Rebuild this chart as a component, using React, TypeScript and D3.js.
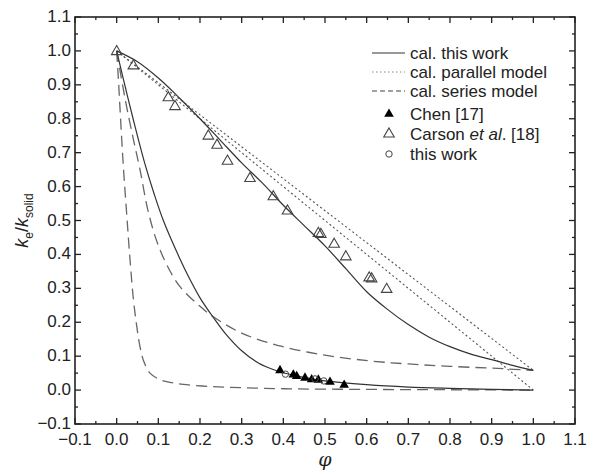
import React from "react";
import * as d3 from "d3";

const W = 593;
const H = 473;

const xTicks = [-0.1, 0.0, 0.1, 0.2, 0.3, 0.4, 0.5, 0.6, 0.7, 0.8, 0.9, 1.0, 1.1];
const yTicks = [-0.1, 0.0, 0.1, 0.2, 0.3, 0.4, 0.5, 0.6, 0.7, 0.8, 0.9, 1.0, 1.1];

// cal. this work (upper, Carson)
const thisWorkUpper: [number, number][] = [
  [0, 1], [0.05, 0.968], [0.1, 0.92], [0.15, 0.862], [0.2, 0.8], [0.25, 0.735],
  [0.3, 0.67], [0.35, 0.61], [0.4, 0.545], [0.45, 0.485], [0.5, 0.425],
  [0.55, 0.358], [0.6, 0.29], [0.65, 0.238], [0.7, 0.193], [0.75, 0.156],
  [0.8, 0.128], [0.85, 0.106], [0.9, 0.09], [0.95, 0.073], [1.0, 0.058],
];
// cal. this work (lower, Chen)
const thisWorkLower: [number, number][] = [
  [0, 1], [0.02, 0.897], [0.04, 0.797], [0.068, 0.666], [0.09, 0.578], [0.112, 0.5],
  [0.15, 0.392], [0.176, 0.326], [0.2, 0.272], [0.232, 0.214], [0.26, 0.168],
  [0.3, 0.116], [0.34, 0.08], [0.384, 0.057], [0.42, 0.045], [0.46, 0.035],
  [0.5, 0.027], [0.6, 0.016], [0.7, 0.009], [0.8, 0.005], [0.9, 0.002], [1.0, 0.0],
];
// cal. parallel model (two lines)
const parallelA: [number, number][] = [[0, 1], [1.0, 0.0]];
const parallelB: [number, number][] = [[0, 1], [1.0, 0.058]];
// cal. series model (two curves)
const seriesUpper: [number, number][] = [
  [0, 1], [0.02, 0.86], [0.04, 0.74], [0.056, 0.65], [0.075, 0.53], [0.096, 0.44],
  [0.12, 0.37], [0.152, 0.305], [0.2, 0.247], [0.232, 0.216], [0.3, 0.168],
  [0.392, 0.13], [0.5, 0.103], [0.608, 0.086], [0.7, 0.077], [0.8, 0.07],
  [0.928, 0.063], [1.0, 0.058],
];
const seriesLower: [number, number][] = [
  [0, 1], [0.004, 0.92], [0.008, 0.83], [0.016, 0.66], [0.024, 0.52], [0.032, 0.385],
  [0.04, 0.27], [0.048, 0.19], [0.056, 0.128], [0.065, 0.085], [0.08, 0.05],
  [0.1, 0.033], [0.12, 0.025], [0.16, 0.017], [0.232, 0.01], [0.3, 0.007],
  [0.4, 0.004], [0.6, 0.002], [0.8, 0.001], [1.0, 0.0],
];

// Chen [17]
const chenX = [0.392, 0.424, 0.432, 0.452, 0.468, 0.484, 0.512, 0.546];
const chenY = [0.058, 0.045, 0.041, 0.036, 0.031, 0.03, 0.024, 0.015];
// Carson et al. [18]
const carsonX = [0.0, 0.04, 0.124, 0.14, 0.22, 0.241, 0.266, 0.32, 0.376, 0.41, 0.484, 0.49, 0.522, 0.55, 0.606, 0.612, 0.648];
const carsonY = [0.998, 0.956, 0.862, 0.836, 0.749, 0.722, 0.675, 0.624, 0.57, 0.528, 0.462, 0.459, 0.43, 0.393, 0.331, 0.328, 0.297];
// this work
const expX = [0.405, 0.476, 0.497];
const expY = [0.047, 0.033, 0.027];

const FONT = "'Liberation Sans', Arial, sans-serif";

export default function App() {
  const x = d3.scaleLinear().domain([-0.1, 1.1]).range([75, 575]);
  const y = d3.scaleLinear().domain([-0.1, 1.1]).range([424, 17]);
  const line = d3
    .line<[number, number]>()
    .x((d) => x(d[0]))
    .y((d) => y(d[1]))
    .curve(d3.curveCatmullRom.alpha(0.5));
  const straight = d3
    .line<[number, number]>()
    .x((d) => x(d[0]))
    .y((d) => y(d[1]));

  const minor = d3.range(-0.1, 1.1001, 0.05).map((v) => Math.round(v * 100) / 100);
  const isMajor = (v: number) => Math.abs(Math.round(v * 10) - v * 10) < 1e-6;
  const fmt = (v: number) => (v < 0 ? "\u2212" : "") + Math.abs(v).toFixed(1);

  const triOpen = d3.symbol(d3.symbolTriangle, 48)()!;
  const triFill = d3.symbol(d3.symbolTriangle, 40)()!;

  const x0 = x(-0.1), x1 = x(1.1), y0 = y(-0.1), y1 = y(1.1);

  const legX = 372;
  const legTX = 410;
  const rows = [53, 72, 91, 114, 134, 154];

  return (
    <svg
      width={W}
      height={H}
      style={{ position: "absolute", left: 0, top: 0, background: "#fff" }}
      fontFamily={FONT}
    >
      <rect x={0} y={0} width={W} height={H} fill="#fff" />
      {/* curves */}
      <path d={straight(parallelA)!} fill="none" stroke="#555" strokeWidth={1.1} strokeDasharray="2,2.5" />
      <path d={straight(parallelB)!} fill="none" stroke="#555" strokeWidth={1.1} strokeDasharray="2,2.5" />
      <path d={line(seriesUpper)!} fill="none" stroke="#666" strokeWidth={1.3} strokeDasharray="11,6" />
      <path d={line(seriesLower)!} fill="none" stroke="#666" strokeWidth={1.3} strokeDasharray="11,6" />
      <path d={line(thisWorkUpper)!} fill="none" stroke="#333" strokeWidth={1.2} />
      <path d={line(thisWorkLower)!} fill="none" stroke="#333" strokeWidth={1.2} />

      {/* markers */}
      {carsonX.map((v, i) => (
        <path key={"c" + i} d={triOpen} transform={`translate(${x(v)},${y(carsonY[i])})`} fill="none" stroke="#444" strokeWidth={1.1} />
      ))}
      {chenX.map((v, i) => (
        <path key={"h" + i} d={triFill} transform={`translate(${x(v)},${y(chenY[i])})`} fill="#000" />
      ))}
      {expX.map((v, i) => (
        <circle key={"e" + i} cx={x(v)} cy={y(expY[i])} r={3.2} fill="none" stroke="#444" strokeWidth={1} />
      ))}

      {/* frame */}
      <rect x={x0} y={y1} width={x1 - x0} height={y0 - y1} fill="none" stroke="#222" strokeWidth={1.6} />
      {/* ticks */}
      {minor.map((v) => {
        const L = isMajor(v) ? 6 : 3;
        return (
          <g key={"t" + v} stroke="#222" strokeWidth={1.3}>
            <line x1={x(v)} x2={x(v)} y1={y0} y2={y0 - L} />
            <line x1={x(v)} x2={x(v)} y1={y1} y2={y1 + L} />
            <line x1={x0} x2={x0 + L} y1={y(v)} y2={y(v)} />
            <line x1={x1} x2={x1 - L} y1={y(v)} y2={y(v)} />
          </g>
        );
      })}
      {xTicks.map((v) => (
        <text key={"xl" + v} x={x(v)} y={y0 + 21} textAnchor="middle" fontSize={17} fill="#222">
          {fmt(v)}
        </text>
      ))}
      {yTicks.map((v) => (
        <text key={"yl" + v} x={x0 - 4} y={y(v) + 5} textAnchor="end" fontSize={17} fill="#222">
          {fmt(v)}
        </text>
      ))}

      {/* axis titles */}
      <text x={x(0.5)} y={466} textAnchor="middle" fontSize={19} fontStyle="italic" fontFamily="'DejaVu Serif', serif" fill="#222">
        φ
      </text>
      <text transform={`translate(28,${y(0.5)}) rotate(-90)`} textAnchor="middle" fontSize={18} fill="#222">
        <tspan fontStyle="italic">k</tspan>
        <tspan fontSize={12} dy={5}>e</tspan>
        <tspan dy={-5}>/</tspan>
        <tspan fontStyle="italic">k</tspan>
        <tspan fontSize={12} dy={5}>solid</tspan>
      </text>

      {/* legend */}
      <line x1={legX} x2={legX + 33} y1={rows[0]} y2={rows[0]} stroke="#333" strokeWidth={1.2} />
      <line x1={legX} x2={legX + 33} y1={rows[1]} y2={rows[1]} stroke="#888" strokeWidth={1} strokeDasharray="1.5,2.5" />
      <line x1={legX} x2={legX + 33} y1={rows[2]} y2={rows[2]} stroke="#444" strokeWidth={1.2} strokeDasharray="5,3" />
      <path d={triFill} transform={`translate(389,${rows[3]})`} fill="#000" />
      <path d={triOpen} transform={`translate(389,${rows[4]})`} fill="none" stroke="#444" strokeWidth={1.1} />
      <circle cx={389} cy={rows[5]} r={3.2} fill="none" stroke="#444" strokeWidth={1} />
      {["cal. this work", "cal. parallel model", "cal. series model", "Chen [17]"].map((t, i) => (
        <text key={t} x={legTX} y={rows[i] + 6} fontSize={17} fill="#222">
          {t}
        </text>
      ))}
      <text x={legTX} y={rows[4] + 6} fontSize={17} fill="#222">
        Carson <tspan fontStyle="italic">et al</tspan>. [18]
      </text>
      <text x={legTX} y={rows[5] + 6} fontSize={17} fill="#222">
        this work
      </text>
    </svg>
  );
}
